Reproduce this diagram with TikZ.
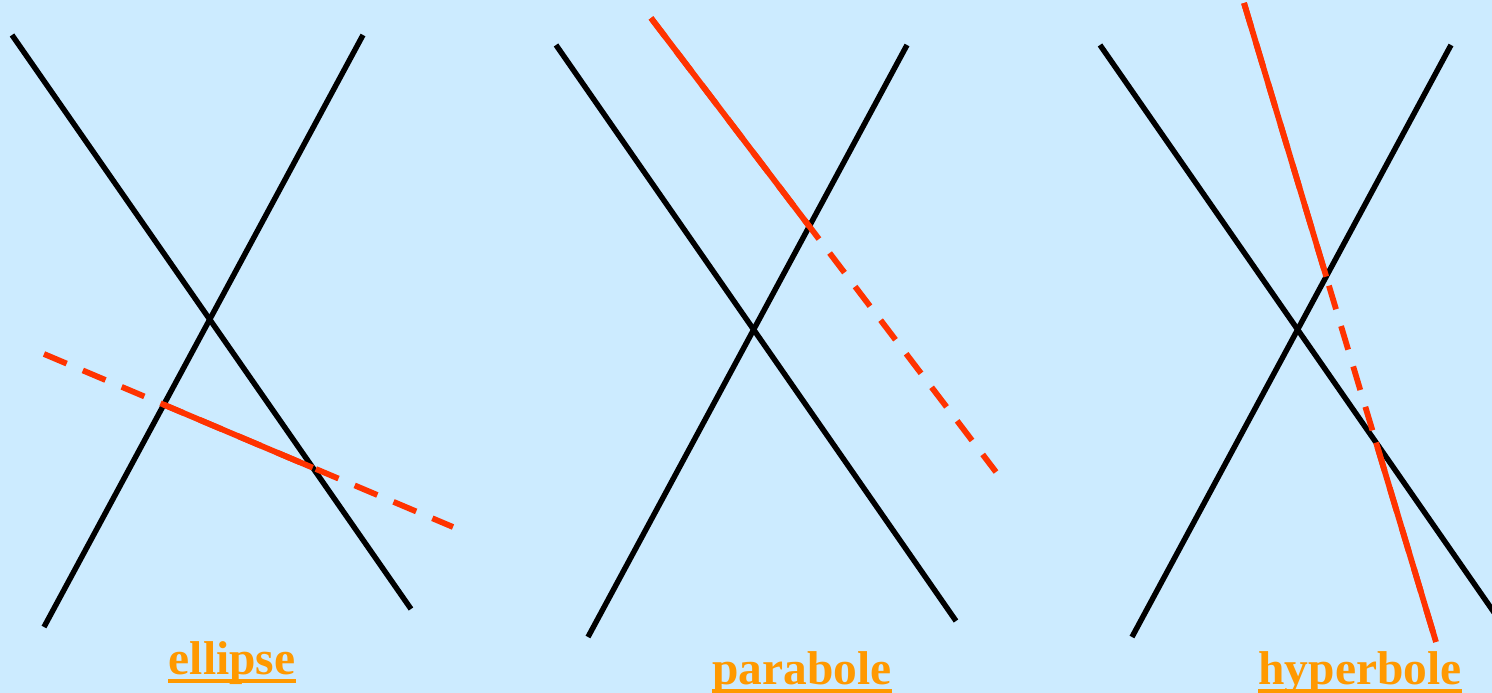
\documentclass[tikz,border=0pt]{standalone}
\usepackage{fontspec}
\setmainfont{Liberation Serif}
\definecolor{skyback}{HTML}{CCEBFF}
\definecolor{conered}{HTML}{FF3300}
\definecolor{labelorange}{HTML}{FF9900}
\tikzset{
  coneline/.style = {line width=3.1pt, black},
  cutline/.style = {line width=3.3pt, conered},
  cutdash/.style = {cutline, dash pattern=on 14pt off 10pt},
  curvename/.style = {font=\bfseries\fontsize{27}{30}\selectfont, text=labelorange, inner sep=0pt, anchor=base},
  underbar/.style = {line width=1.8pt, labelorange}
}
\begin{document}
\begin{tikzpicture} [x = 0.02cm, y = -0.02cm]
	\fill [skyback] (0,0) rectangle (1492,693);
	\clip (0,0) rectangle (1492,693);
	% ellipse
	\coordinate (e1) at (12,35);   \coordinate (e2) at (411,609);
	\coordinate (e3) at (363,35);  \coordinate (e4) at (44,627);
	\coordinate (er1) at (44,354); \coordinate (er2) at (453,527);
	\draw [coneline] (e1) -- (e2);
	\draw [coneline] (e3) -- (e4);
	\draw [cutdash] (er1) -- (er2);
	\draw [cutline] (intersection of er1--er2 and e3--e4) -- (intersection of er1--er2 and e1--e2);
	\node [curvename] (lblellipse) at (232,674) {ellipse};
	\draw [underbar] ([yshift=-4pt]lblellipse.base west) -- ([yshift=-4pt]lblellipse.base east);
	% parabole
	\coordinate (p1) at (556,45);  \coordinate (p2) at (956,621);
	\coordinate (p3) at (907,45);  \coordinate (p4) at (588,637);
	\coordinate (pr1) at (651,18); \coordinate (pr2) at (996,472);
	\draw [coneline] (p1) -- (p2);
	\draw [coneline] (p3) -- (p4);
	\draw [cutdash] (pr1) -- (pr2);
	\draw [cutline] (pr1) -- (intersection of pr1--pr2 and p3--p4);
	\node [curvename] (lblparabole) at (802,684) {parabole};
	\draw [underbar] ([yshift=-4pt]lblparabole.base west) -- ([yshift=-4pt]lblparabole.base east);
	% hyperbole
	\coordinate (h1) at (1100,45); \coordinate (h2) at (1500,621);
	\coordinate (h3) at (1451,45); \coordinate (h4) at (1132,637);
	\coordinate (hr1) at (1244,3); \coordinate (hr2) at (1436,642);
	\draw [coneline] (h1) -- (h2);
	\draw [coneline] (h3) -- (h4);
	\draw [cutdash] (hr1) -- (hr2);
	\draw [cutline] (hr1) -- (intersection of hr1--hr2 and h3--h4);
	\draw [cutline] (intersection of hr1--hr2 and h1--h2) -- (hr2);
	\node [curvename] (lblhyperbole) at (1360,684) {hyperbole};
	\draw [underbar] ([yshift=-4pt]lblhyperbole.base west) -- ([yshift=-4pt]lblhyperbole.base east);
\end{tikzpicture}
\end{document}
